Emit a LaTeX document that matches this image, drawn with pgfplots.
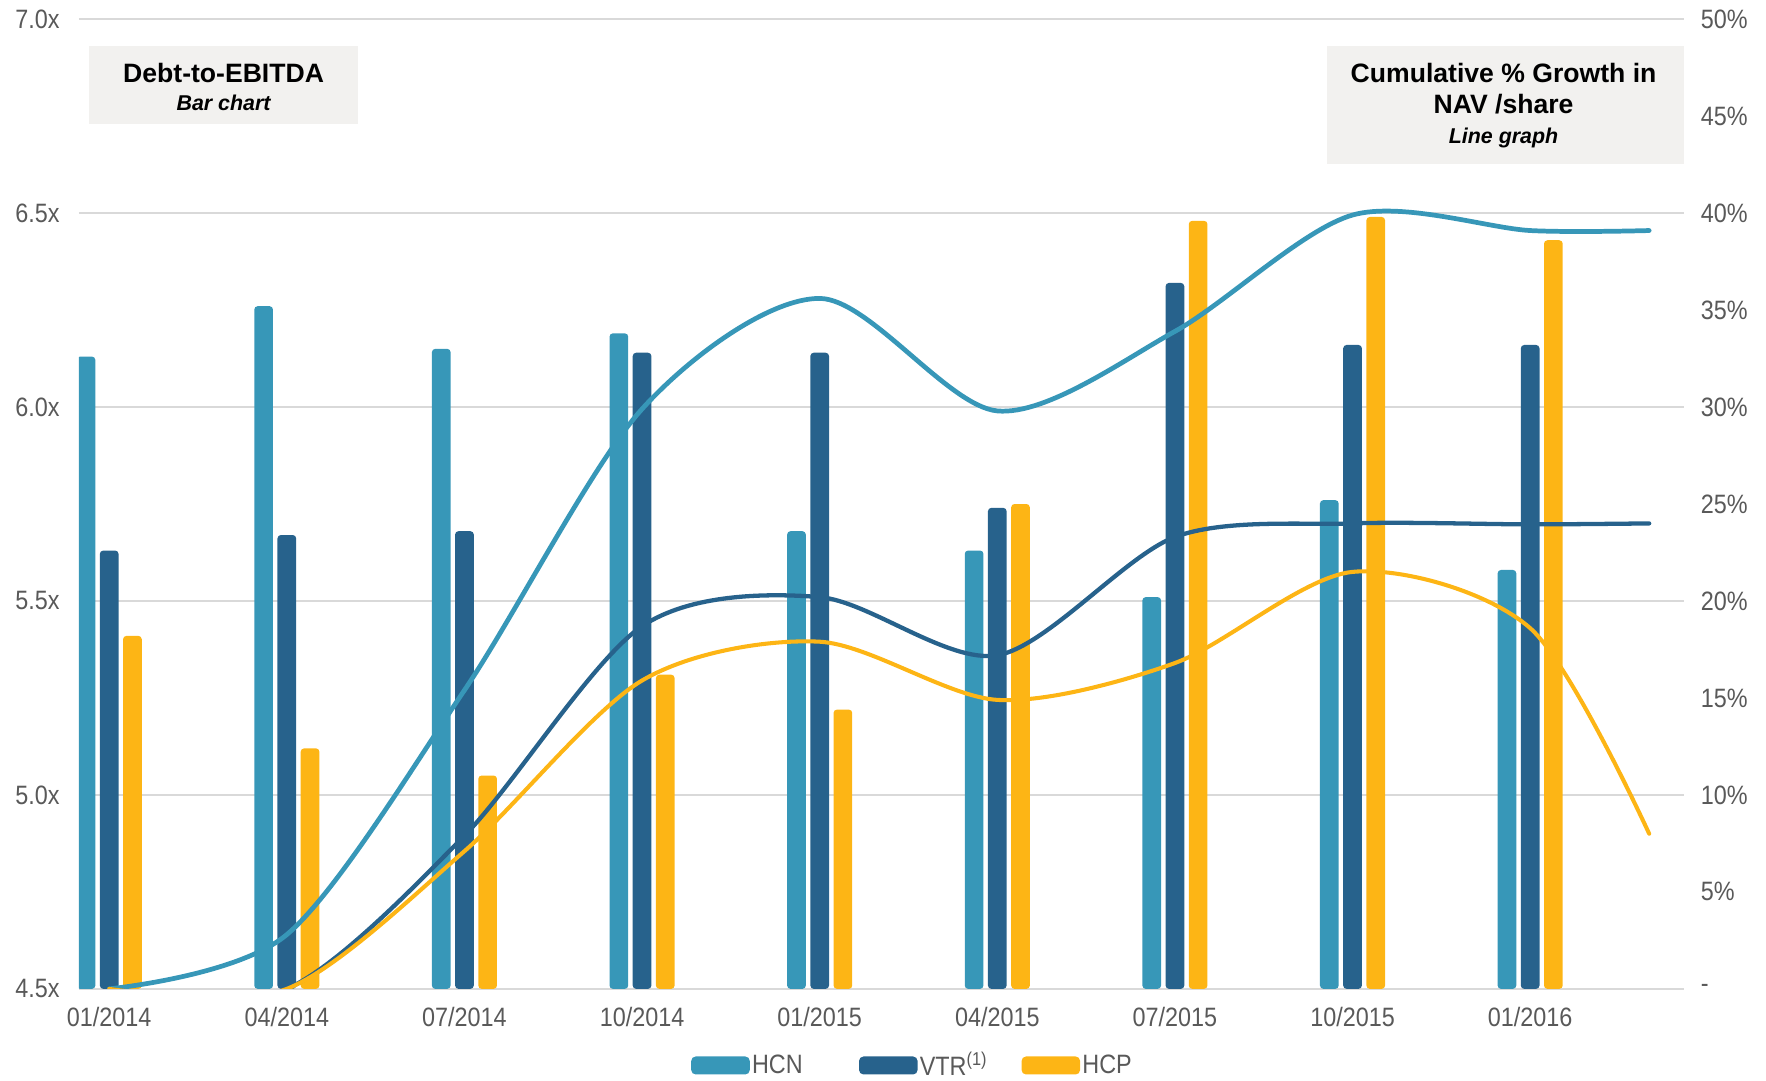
\documentclass[border=0pt]{standalone}
\usepackage{pgfplots}
\pgfplotsset{compat=1.18}
\usepackage{fontspec}
\setmainfont{Liberation Sans}
\newfontfamily\narrowfont[FakeStretch=0.88]{Liberation Sans}

\definecolor{hcn}{RGB}{55,151,184}
\definecolor{vtr}{RGB}{39,98,140}
\definecolor{hcp}{RGB}{253,181,21}
\definecolor{tickgray}{RGB}{89,89,89}
\definecolor{gridgray}{RGB}{217,217,217}
\definecolor{boxgray}{RGB}{242,241,239}

\newcommand\labfont{\narrowfont\fontsize{11.8}{14}\selectfont}
\newcommand\titlefont{\bfseries\fontsize{11.8}{14}\selectfont}
\newcommand\subfont{\bfseries\itshape\fontsize{9.5}{11}\selectfont}

\pgfplotsset{
  common/.style={
    at={(35pt,40.5pt)}, anchor=south west,
    scale only axis, width=712.5pt, height=430.5pt,
    xmin=-0.171, xmax=8.865,
    axis line style={draw=none},
    major tick length=0pt,
    tick label style={font=\labfont, text=tickgray},
  }
}

\begin{document}
\begin{tikzpicture}
\useasboundingbox (0,0) rectangle (784pt,479.5pt);

% Debt-to-EBITDA bars (left axis)
\begin{axis}[
  common,
  ymin=4.5, ymax=7,
  ytick={4.5,5,5.5,6,6.5,7},
  yticklabels={4.5x,5.0x,5.5x,6.0x,6.5x,7.0x},
  yticklabel style={xshift=-5pt},
  xtick={0,1,2,3,4,5,6,7,8},
  xticklabels={01/2014,04/2014,07/2014,10/2014,01/2015,04/2015,07/2015,10/2015,01/2016},
  xticklabel style={yshift=-4.4pt},
  ymajorgrids,
  grid style={gridgray, line width=0.9pt},
  legend image code/.code={\fill[#1, draw=none] (0pt,-4pt) rectangle (26pt,4pt);},
  legend cell align=left,
  legend style={at={(0.5195,-0.079)}, anchor=center, draw=none, fill=none,
    legend columns=3, font=\labfont, text=tickgray,
    /tikz/column 2/.style={column sep=24pt},
    /tikz/column 4/.style={column sep=14pt},
    nodes={inner xsep=1pt, inner ysep=1pt}},
]
\addplot[ybar, bar width=8.3pt, bar shift=-10.3pt, fill=hcn, draw=none, rounded corners=1.5pt, forget plot]
  coordinates {(0,6.13) (1,6.26) (2,6.15) (3,6.19) (4,5.68) (5,5.63) (6,5.51) (7,5.76) (8,5.58)};
\addplot[ybar, bar width=8.3pt, bar shift=0pt, fill=vtr, draw=none, rounded corners=1.5pt, forget plot]
  coordinates {(0,5.63) (1,5.67) (2,5.68) (3,6.14) (4,6.14) (5,5.74) (6,6.32) (7,6.16) (8,6.16)};
\addplot[ybar, bar width=8.3pt, bar shift=10.3pt, fill=hcp, draw=none, rounded corners=1.5pt, forget plot]
  coordinates {(0,5.41) (1,5.12) (2,5.05) (3,5.31) (4,5.22) (5,5.75) (6,6.48) (7,6.49) (8,6.43)};

\addlegendimage{fill=hcn, rounded corners=2pt}
\addlegendentry{HCN}
\addlegendimage{fill=vtr, rounded corners=2pt}
\addlegendentry{VTR\textsuperscript{(1)}}
\addlegendimage{fill=hcp, rounded corners=2pt}
\addlegendentry{HCP}

% panel captions
\fill[boxgray] (rel axis cs:0.0063,0.972) rectangle (rel axis cs:0.174,0.892);
\node[font=\titlefont] at (rel axis cs:0.0902,0.944) {Debt-to-EBITDA};
\node[font=\subfont] at (rel axis cs:0.0902,0.914) {Bar chart};
\fill[boxgray] (rel axis cs:0.7775,0.972) rectangle (rel axis cs:1.0,0.851);
\node[font=\titlefont] at (rel axis cs:0.8877,0.944) {Cumulative \% Growth in};
\node[font=\titlefont] at (rel axis cs:0.8877,0.912) {NAV /share};
\node[font=\subfont] at (rel axis cs:0.8877,0.877) {Line graph};
\end{axis}

% Cumulative growth in NAV/share (right axis)
\begin{axis}[
  common,
  ymin=0, ymax=50,
  axis x line=none,
  axis y line*=right,
  ytick={0,5,10,15,20,25,30,35,40,45,50},
  yticklabels={-,5\%,10\%,15\%,20\%,25\%,30\%,35\%,40\%,45\%,50\%},
  yticklabel style={anchor=west, xshift=4pt},
]
\addplot[hcn, line width=2.1pt, smooth, line cap=round]
  coordinates {(0,0) (1,2.8) (2,15.4) (3,29.9) (4,35.6) (5,29.8) (6,33.9) (7,39.9) (8,39.1) (8.67,39.1)};
\addplot[vtr, line width=1.9pt, smooth, line cap=round]
  coordinates {(0,0) (1,0) (2,7.9) (3,18.7) (4,20.2) (5,17.2) (6,23.3) (7,24.0) (8,23.95) (8.67,24.0)};
\addplot[hcp, line width=1.8pt, smooth, line cap=round]
  coordinates {(0,0) (1,0) (2,7.1) (3,15.9) (4,17.9) (5,14.9) (6,16.8) (7,21.5) (8,18.6) (8.67,8.0)};
\end{axis}
\end{tikzpicture}
\end{document}
